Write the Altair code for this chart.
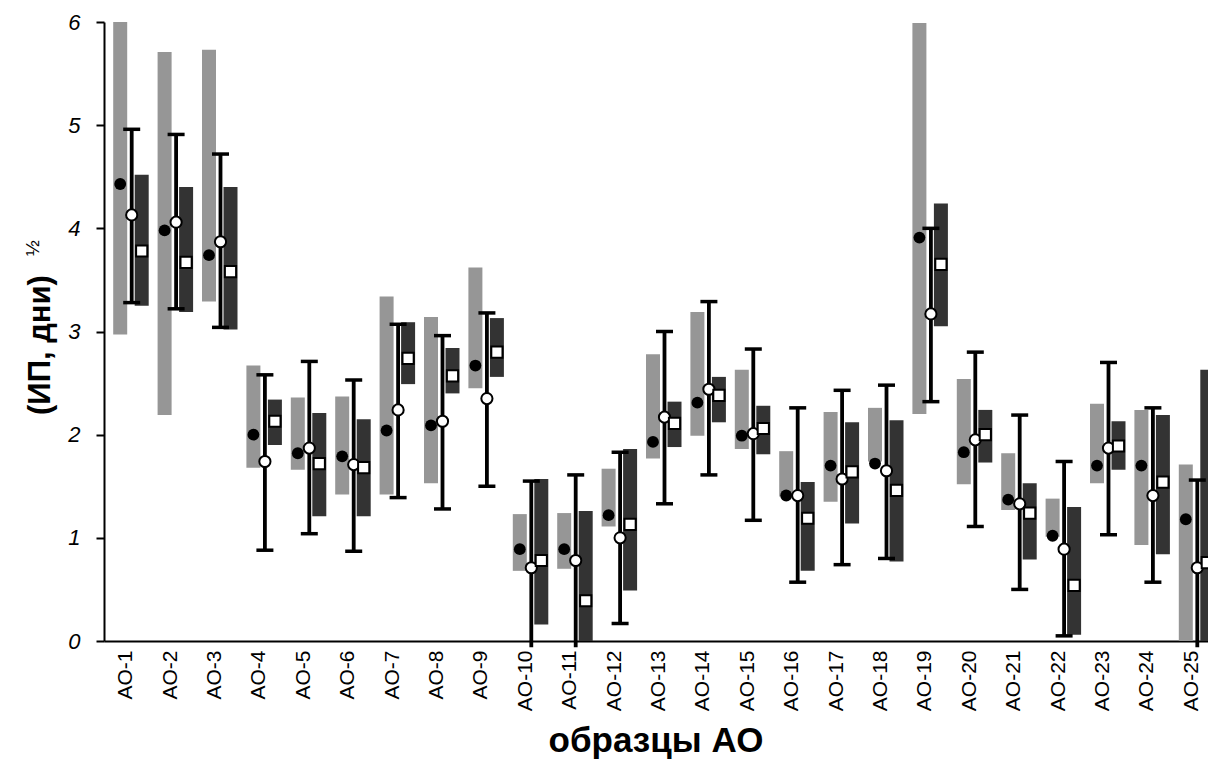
import altair as alt
import pandas as pd

categories = ["AO-1", "AO-2", "AO-3", "AO-4", "AO-5", "AO-6", "AO-7", "AO-8", "AO-9",
              "AO-10", "AO-11", "AO-12", "AO-13", "AO-14", "AO-15", "AO-16", "AO-17",
              "AO-18", "AO-19", "AO-20", "AO-21", "AO-22", "AO-23", "AO-24", "AO-25"]

light_low = [2.97, 2.19, 3.29, 1.68, 1.66, 1.42, 1.42, 1.53, 2.45, 0.68, 0.70, 1.11, 1.77,
             1.99, 1.86, 1.40, 1.35, 1.74, 2.20, 1.52, 1.27, 1.01, 1.53, 0.93, 0.0]
light_high = [6.0, 5.71, 5.73, 2.67, 2.36, 2.37, 3.34, 3.14, 3.62, 1.23, 1.24, 1.67, 2.78,
              3.19, 2.63, 1.84, 2.22, 2.26, 5.99, 2.54, 1.82, 1.38, 2.30, 2.24, 1.71]
black_dot = [4.43, 3.98, 3.74, 2.00, 1.82, 1.79, 2.04, 2.09, 2.67, 0.89, 0.89, 1.22, 1.93,
             2.31, 1.99, 1.41, 1.70, 1.72, 3.91, 1.83, 1.37, 1.02, 1.70, 1.70, 1.18]
err_low = [3.28, 3.22, 3.04, 0.88, 1.04, 0.87, 1.39, 1.28, 1.50, -0.06, -0.06, 0.17, 1.33,
           1.61, 1.17, 0.57, 0.74, 0.80, 2.32, 1.11, 0.50, 0.05, 1.03, 0.57, -0.06]
err_high = [4.96, 4.91, 4.72, 2.58, 2.71, 2.53, 3.07, 2.96, 3.18, 1.55, 1.61, 1.83, 3.00,
            3.29, 2.83, 2.26, 2.43, 2.48, 4.00, 2.80, 2.19, 1.74, 2.70, 2.26, 1.56]
white_circle = [4.13, 4.06, 3.87, 1.74, 1.87, 1.71, 2.24, 2.13, 2.35, 0.71, 0.78, 1.00, 2.17,
                2.44, 2.01, 1.41, 1.57, 1.65, 3.17, 1.95, 1.33, 0.89, 1.87, 1.41, 0.71]
dark_low = [3.25, 3.19, 3.02, 1.90, 1.21, 1.21, 2.49, 2.40, 2.56, 0.16, 0.0, 0.49, 1.88,
            2.12, 1.81, 0.68, 1.14, 0.77, 3.05, 1.73, 0.79, 0.06, 1.66, 0.84, 0.0]
dark_high = [4.52, 4.40, 4.40, 2.34, 2.21, 2.15, 3.09, 2.84, 3.13, 1.57, 1.26, 1.86, 2.32,
             2.56, 2.28, 1.54, 2.12, 2.14, 4.24, 2.24, 1.53, 1.30, 2.13, 2.19, 2.63]
white_square = [3.78, 3.67, 3.58, 2.13, 1.72, 1.68, 2.74, 2.57, 2.80, 0.78, 0.39, 1.13, 2.11,
                2.38, 2.06, 1.19, 1.64, 1.46, 3.65, 2.00, 1.24, 0.54, 1.89, 1.54, 0.76]

y_ticks = [0, 1, 2, 3, 4, 5, 6]
x_title = "образцы АО"
y_title = "(ИП, дни)"
y_title_sup = "½"

df = pd.DataFrame({
    "cat": categories,
    "light_low": light_low, "light_high": light_high,
    "black_dot": black_dot,
    "err_low": err_low, "err_high": err_high,
    "white_circle": white_circle,
    "dark_low": dark_low, "dark_high": dark_high,
    "white_square": white_square,
})

FONT = "Liberation Sans"

x_enc = alt.X(
    "cat:N", sort=categories, title=None,
    scale=alt.Scale(range=[0, 1110], paddingInner=0, paddingOuter=0),
    axis=alt.Axis(labelAngle=-90, ticks=False, labelPadding=9, labelFontSize=21,
                  labelFont=FONT, labelColor="black", domainColor="black",
                  domainWidth=2, labelBaseline="middle", grid=False),
)
y_scale = alt.Scale(domain=[0, 6], nice=False, zero=False)
y_axis = alt.Axis(values=y_ticks, format="d", grid=False, tickSize=8, tickWidth=2,
                  tickColor="black", domainColor="black", domainWidth=2, labelFontSize=22,
                  labelFontStyle="italic", labelFont=FONT, labelColor="black",
                  labelPadding=16, title=None)

base = alt.Chart(df)

light = base.mark_bar(width=14, xOffset=-6, color="#969696").encode(
    x=x_enc,
    y=alt.Y("light_low:Q", scale=y_scale, axis=y_axis),
    y2="light_high:Q",
)
dark = base.mark_bar(width=14, xOffset=15.5, color="#333333").encode(
    x=x_enc, y=alt.Y("dark_low:Q", scale=y_scale), y2="dark_high:Q",
)
dots = base.mark_point(shape="circle", filled=True, size=140, color="black",
                       opacity=1, xOffset=-6).encode(
    x=x_enc, y=alt.Y("black_dot:Q", scale=y_scale),
)
err = base.mark_rule(strokeWidth=3.8, color="black", xOffset=5.5).encode(
    x=x_enc, y=alt.Y("err_low:Q", scale=y_scale), y2="err_high:Q",
)
cap_hi = base.mark_tick(size=17, thickness=3.5, color="black", xOffset=5.5, opacity=1).encode(
    x=x_enc, y=alt.Y("err_high:Q", scale=y_scale),
)
cap_lo = base.transform_filter("datum.err_low >= 0").mark_tick(
    size=17, thickness=3.5, color="black", xOffset=5.5, opacity=1).encode(
    x=x_enc, y=alt.Y("err_low:Q", scale=y_scale),
)
circles = base.mark_point(shape="circle", filled=True, size=125, fill="white",
                          stroke="black", strokeWidth=2, opacity=1, xOffset=5.5).encode(
    x=x_enc, y=alt.Y("white_circle:Q", scale=y_scale),
)
squares = base.mark_point(shape="square", filled=True, size=125, fill="white",
                          stroke="black", strokeWidth=2, opacity=1, xOffset=15.5).encode(
    x=x_enc, y=alt.Y("white_square:Q", scale=y_scale),
)

xt = alt.Chart(pd.DataFrame({"t": [x_title]})).mark_text(
    font=FONT, fontSize=35, fontWeight="bold", color="black", align="center",
    baseline="middle").encode(text="t:N", x=alt.value(552), y=alt.value(719))
yt = alt.Chart(pd.DataFrame({"t": [y_title]})).mark_text(
    font=FONT, fontSize=31, fontWeight="bold", color="black", align="center",
    baseline="middle", angle=270).encode(text="t:N", x=alt.value(-63), y=alt.value(323))
ys = alt.Chart(pd.DataFrame({"t": [y_title_sup]})).mark_text(
    font=FONT, fontSize=19, color="black", align="center",
    baseline="middle", angle=270).encode(text="t:N", x=alt.value(-71), y=alt.value(226))

chart = alt.layer(light, dark, dots, err, cap_hi, cap_lo, circles, squares, xt, yt, ys).properties(
    width=1104, height=619,
    background="white",
    autosize=alt.AutoSizeParams(type="none"),
    padding={"left": 104, "top": 22, "right": 0, "bottom": 119},
).configure_view(stroke=None)

chart.save("out.html", embed_options={"renderer": "svg", "actions": False})
